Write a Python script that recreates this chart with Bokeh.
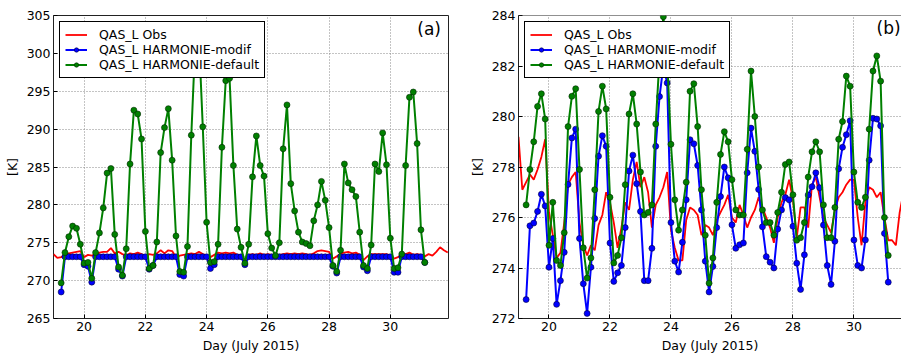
from bokeh.plotting import figure
from bokeh.layouts import row
from bokeh.models import FixedTicker, Legend, LegendItem, Label, Span
from bokeh.embed import file_html
from bokeh.resources import INLINE

FONT = "DejaVu Sans"

# ---------------- data ----------------
# model output every 3 h from 19.25 to 31.125 (days of July 2015)
t_model = [19.25 + 0.125 * i for i in range(96)]
# observations every 3 h from 19.0 to 31.875
t_obs = [19.0 + 0.125 * i for i in range(104)]

obs_a = [273.5, 273.0, 273.1, 273.4, 273.6, 273.7, 273.8, 273.9,
         273.1, 273.4, 273.3, 273.5, 273.7, 273.8, 273.8, 274.3,
         273.6, 273.8, 273.5, 273.3, 273.6, 273.5, 273.7, 273.5,
         273.2, 273.5, 273.4, 273.6, 274.0, 273.6, 274.0, 273.9,
         273.1, 273.3, 273.4, 273.5, 273.6, 273.5, 273.8, 273.5,
         273.3, 273.1, 273.4, 273.7, 273.6, 273.7, 273.6, 273.7,
         273.4, 273.3, 272.8, 273.4, 273.5, 273.4, 273.6, 273.4,
         273.5, 273.4, 273.3, 273.4, 273.5, 273.6, 273.5, 273.6,
         273.5, 273.6, 273.5, 273.4, 273.6, 273.9, 274.0, 273.9,
         273.8, 272.9, 273.2, 273.6, 273.7, 273.8, 273.6, 273.7,
         273.4, 272.7, 273.2, 273.5, 273.5, 273.5, 273.5, 273.5,
         273.3, 272.9, 273.1, 273.5, 273.5, 273.7, 273.4, 273.5,
         273.4, 273.2, 273.5, 273.3, 273.8, 274.4, 274.0, 273.7]

modif_a = [268.5, 273.15, 273.15, 273.15, 273.15, 273.15, 272.1, 271.9,
           269.8, 273.15, 273.15, 273.15, 273.15, 273.15, 273.15, 271.5,
           270.6, 273.15, 273.15, 273.15, 273.15, 273.15, 273.15, 271.5,
           272.0, 273.15, 273.15, 273.15, 273.15, 273.15, 273.15, 270.8,
           270.6, 273.15, 273.15, 273.15, 273.15, 273.15, 273.15, 271.6,
           272.1, 273.15, 273.15, 273.15, 273.15, 273.15, 273.15, 273.15,
           272.1, 273.15, 273.15, 273.15, 273.15, 273.15, 273.15, 273.15,
           273.15, 273.15, 273.15, 273.15, 273.15, 273.15, 273.15, 273.15,
           273.15, 273.15, 273.15, 273.15, 273.15, 273.15, 273.15, 271.9,
           271.0, 273.15, 273.15, 273.15, 273.15, 273.15, 273.15, 271.8,
           271.3, 273.15, 273.15, 273.15, 273.15, 273.15, 273.15, 271.1,
           271.1, 273.15, 273.15, 273.15, 273.15, 273.15, 273.15, 272.4]

default_a = [269.7, 273.7, 275.8, 277.2, 276.9, 274.8, 272.3, 272.4,
             270.3, 273.7, 276.3, 279.6, 284.2, 284.8, 276.1, 271.8,
             270.7, 274.2, 285.4, 292.5, 292.0, 288.7, 276.5, 271.6,
             272.0, 275.1, 286.9, 290.2, 292.7, 285.9, 275.9, 271.2,
             271.1, 274.5, 289.2, 301.0, 302.0, 290.3, 277.7, 272.4,
             272.5, 274.8, 287.6, 296.4, 296.7, 285.2, 276.8, 274.4,
             272.3, 274.8, 283.7, 289.1, 285.2, 283.8, 276.2, 274.3,
             273.3, 275.0, 287.4, 293.2, 282.8, 279.2, 276.4, 275.1,
             274.9, 274.6, 277.9, 280.0, 283.1, 280.6, 277.0, 272.0,
             271.2, 274.0, 285.4, 282.9, 282.0, 281.1, 276.4, 272.0,
             271.6, 274.7, 285.4, 284.4, 289.5, 285.3, 275.6, 271.6,
             271.7, 273.5, 285.2, 294.2, 294.9, 288.1, 276.7, 272.4]

obs_b = [279.2, 277.1, 277.4, 277.7, 277.5, 277.9, 278.4, 279.1,
         276.2, 275.3, 274.4, 274.6, 275.8, 277.3, 277.6, 277.8,
         275.8, 274.9, 274.5, 274.9, 274.7, 275.7, 276.1, 277.0,
         276.6, 275.8, 274.8, 275.6, 276.6, 276.3, 277.5, 278.2,
         277.2, 277.6, 277.0, 275.6, 276.5, 276.8, 277.2, 277.8,
         275.5, 274.8, 274.3, 274.3, 275.9, 276.4, 276.3, 276.1,
         275.3, 275.7, 275.6, 275.3, 275.9, 276.2, 276.5, 276.9,
         276.0, 275.8, 276.5, 276.1, 275.6, 276.0, 276.3, 276.8,
         276.4, 276.0, 275.6, 275.0, 276.0, 276.6, 276.9, 277.5,
         276.7, 275.2, 276.4, 276.4, 275.6, 277.3, 277.6, 276.8,
         276.0, 275.7, 275.4, 276.3, 276.8, 277.0, 277.3, 277.5,
         277.5, 276.0, 274.9, 276.6, 277.2, 277.1, 276.8, 277.0,
         276.0, 275.1, 275.1, 274.9, 276.2, 277.0, 277.5, 277.8]

modif_b = [272.75, 275.67, 275.78, 276.24, 276.92, 276.46, 274.03, 275.17,
           272.56, 273.5, 274.62, 277.31, 279.15, 279.5, 275.17, 273.38,
           272.2, 274.03, 275.96, 278.43, 279.24, 278.82, 274.99, 273.47,
           273.81, 274.1, 275.6, 277.84, 278.47, 277.34, 276.24, 273.5,
           273.5, 274.78, 278.82, 280.79, 282.0, 281.33, 275.8, 274.27,
           273.84, 275.02, 276.7, 279.08, 278.92, 278.06, 276.3, 274.27,
           273.05, 274.06, 275.6, 276.83, 278.0, 277.57, 275.71, 274.78,
           274.92, 274.99, 277.77, 279.54, 278.62, 277.11, 275.63, 274.45,
           274.23, 274.0, 275.54, 276.3, 276.79, 276.7, 275.65, 274.19,
           273.15, 274.52, 276.89, 277.22, 277.77, 277.18, 275.7, 274.1,
           273.35, 275.06, 277.93, 278.78, 279.28, 279.83, 275.11, 274.1,
           274.0, 275.11, 278.27, 279.93, 279.9, 279.63, 275.37, 273.44]

default_b = [276.5, 277.9, 279.0, 280.4, 280.9, 279.9, 274.9, 276.6,
             274.3, 274.1, 275.4, 279.6, 280.8, 281.1, 277.9, 274.8,
             273.6, 274.4, 277.1, 280.2, 281.2, 280.3, 276.8, 274.2,
             274.5, 275.2, 277.3, 280.1, 280.9, 279.7, 277.8, 276.1,
             276.2, 276.5, 279.7, 282.3, 283.95, 282.3, 278.9, 276.7,
             275.5, 276.3, 277.4, 281.0, 281.3, 279.6, 277.1, 275.3,
             273.4, 274.4, 276.6, 278.5, 279.4, 279.0, 277.5, 276.3,
             276.1, 276.1, 278.7, 281.8, 280.0, 278.0, 276.3, 275.8,
             275.8, 275.3, 276.2, 277.0, 278.1, 278.2, 276.9, 275.1,
             275.2, 275.8, 277.6, 278.6, 279.0, 278.6, 276.5, 275.2,
             275.2, 276.4, 279.1, 279.8, 281.6, 281.2, 277.8, 276.6,
             276.4, 276.8, 279.5, 281.8, 282.4, 281.4, 276.0, 274.5]

x_ticks = [20, 22, 24, 26, 28, 30]
y_ticks_a = [265, 270, 275, 280, 285, 290, 295, 300, 305]
y_ticks_b = [272, 274, 276, 278, 280, 282, 284]
labels = ["QAS_L Obs", "QAS_L HARMONIE-modif", "QAS_L HARMONIE-default"]
x_label = "Day (July 2015)"
y_label = "[K]"


def make_panel(width, b_left, b_right, x_end, y_lo, y_hi, y_ticks,
               obs, modif, default, tag, tag_x, tag_y, outline=True):
    p = figure(width=width, height=355, x_range=(19.0, x_end), y_range=(y_lo, y_hi),
               output_backend="svg", toolbar_location=None,
               min_border_left=b_left, min_border_right=b_right,
               min_border_top=15, min_border_bottom=35)
    p.background_fill_color = "white"
    p.border_fill_color = "white"
    if outline:
        p.outline_line_color = "#222222"
        p.outline_line_width = 1
        p.outline_line_alpha = 1
    else:
        p.outline_line_color = None
        p.add_layout(Span(location=y_hi, dimension="width", line_color="#222222", line_width=1))

    p.xaxis.ticker = FixedTicker(ticks=x_ticks)
    p.yaxis.ticker = FixedTicker(ticks=y_ticks)
    p.xaxis.axis_label = x_label
    p.yaxis.axis_label = y_label
    for ax in p.axis:
        ax.major_label_text_font = FONT
        ax.major_label_text_font_size = "12.5px"
        ax.major_label_text_color = "black"
        ax.axis_label_text_font = FONT
        ax.axis_label_text_font_size = "12.5px"
        ax.axis_label_text_font_style = "normal"
        ax.axis_label_text_color = "black"
        ax.major_tick_in = 4
        ax.major_tick_out = 0
        ax.minor_tick_in = 0
        ax.minor_tick_out = 0
        ax.major_tick_line_color = "black"
        ax.axis_line_color = "#222222" if not outline else None
        ax.major_label_standoff = 3
        ax.axis_label_standoff = 4

    for g in (p.xgrid, p.ygrid):
        g.grid_line_color = "#888888"
        g.grid_line_dash = "1 2"
        g.grid_line_width = 1

    r_obs = p.line(t_obs, obs, line_color="red", line_width=1.8)
    r_ml = p.line(t_model, modif, line_color="blue", line_width=2)
    r_mp = p.scatter(t_model, modif, size=6, fill_color="blue", line_color="#000040",
                     line_width=0.6)
    r_dl = p.line(t_model, default, line_color="green", line_width=2)
    r_dp = p.scatter(t_model, default, size=6, fill_color="green", line_color="#002800",
                     line_width=0.6)

    legend = Legend(items=[LegendItem(label=labels[0], renderers=[r_obs]),
                           LegendItem(label=labels[1], renderers=[r_ml, r_mp]),
                           LegendItem(label=labels[2], renderers=[r_dl, r_dp])],
                    location="top_left", margin=6, padding=5, spacing=-4,
                    label_height=11, glyph_height=11, glyph_width=22,
                    label_standoff=12, border_line_color="black", border_line_width=1,
                    border_line_alpha=1, background_fill_alpha=1,
                    label_text_font=FONT, label_text_font_size="12.5px",
                    label_text_color="black")
    p.add_layout(legend)

    p.add_layout(Label(x=tag_x, y=tag_y, text=tag, text_font=FONT, text_font_size="17px",
                       text_baseline="middle", text_align="left", text_color="black"))
    return p


p1 = make_panel(460, 53, 12, 31.9, 265, 305, y_ticks_a, obs_a, modif_a, default_a,
                "(a)", 30.88, 303.16)
p2 = make_panel(441, 58, 0, 31.56, 272, 284, y_ticks_b, obs_b, modif_b, default_b,
                "(b)", 30.74, 283.49, outline=False)

layout = row(p1, p2)
open("out.html", "w").write(file_html(layout, INLINE))
